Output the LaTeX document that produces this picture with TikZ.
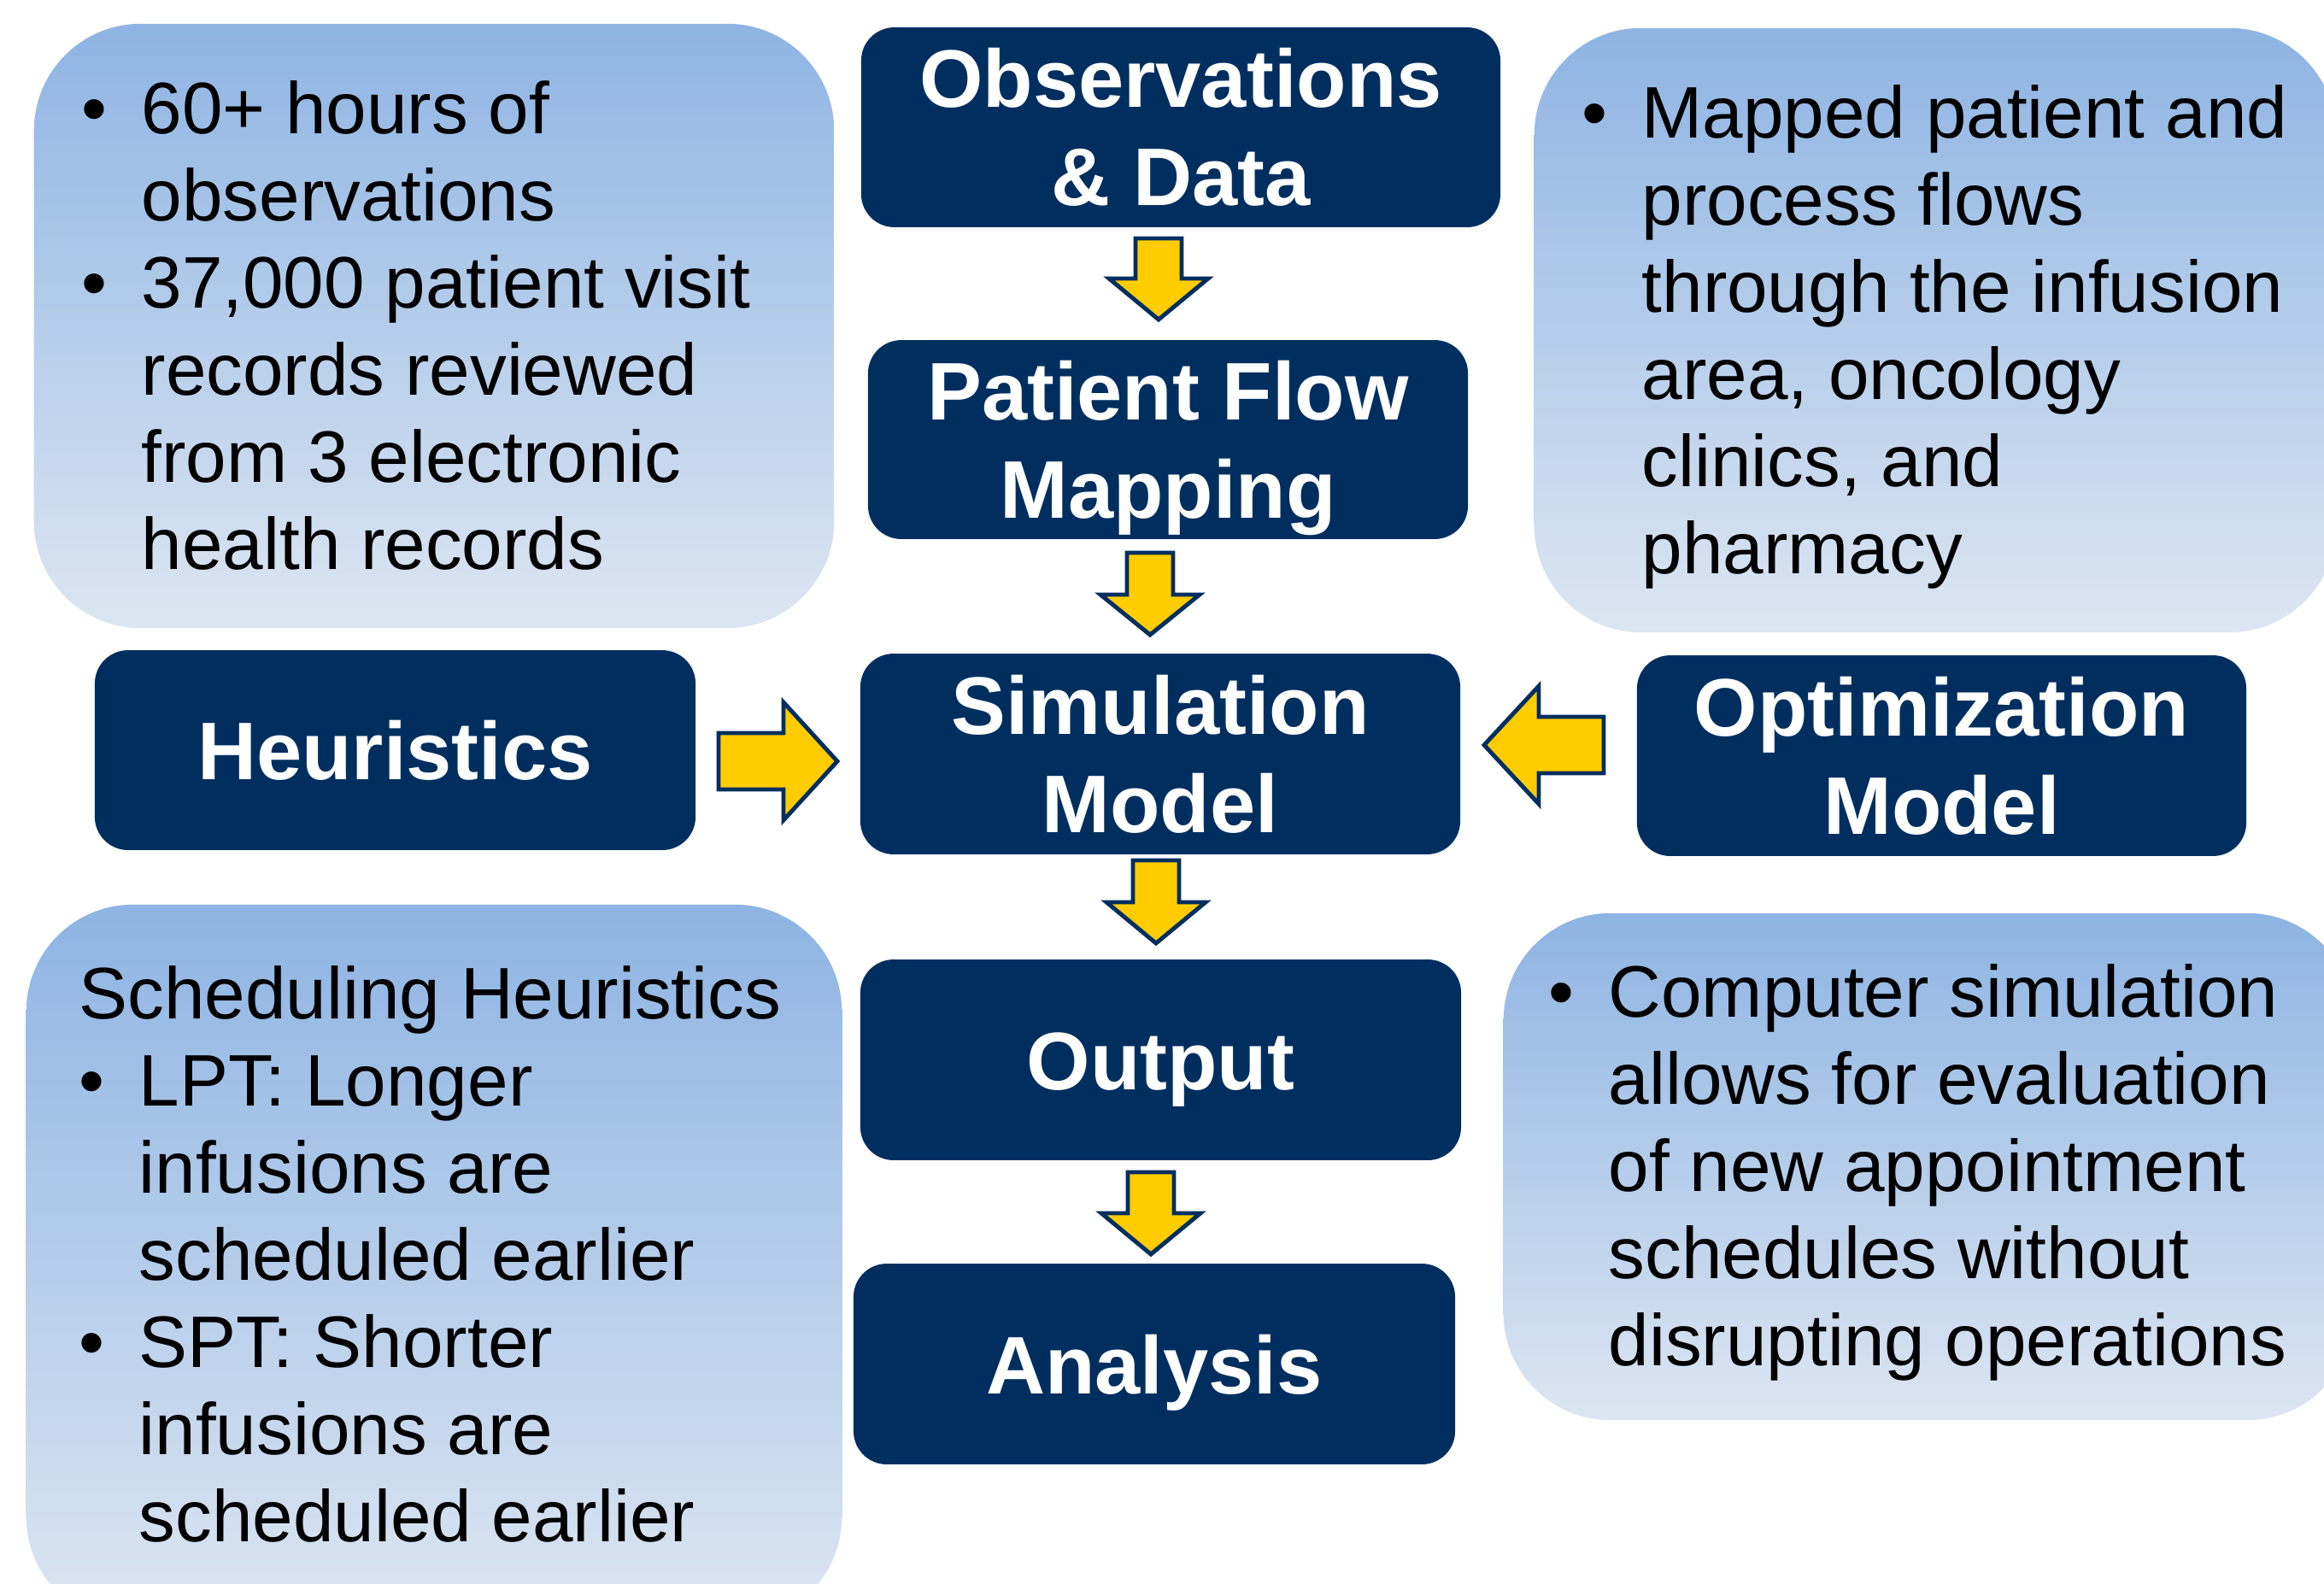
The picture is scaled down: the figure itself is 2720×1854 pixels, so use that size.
\documentclass[tikz,border=0pt]{standalone}
\usepackage{fontspec}
\setmainfont{Liberation Sans}
\usetikzlibrary{calc}
\definecolor{navy}{HTML}{002F5F}
\definecolor{gold}{HTML}{FFCC00}
\definecolor{ltop}{HTML}{8EB4E3}
\definecolor{lbot}{HTML}{DCE6F2}
\newcommand\bul{\makebox[0.70cm][l]{•}}
\newcommand\ind{\hspace*{0.70cm}}
\newcommand\arrdown[6]{% cx, top, headbase, tip, shaft half, head half
  \draw[blockarrow] ({#1-#5},#2) -- ({#1+#5},#2) -- ({#1+#5},#3) -- ({#1+#6},#3)
    -- (#1,#4) -- ({#1-#6},#3) -- ({#1-#5},#3) -- cycle;}
\newcommand\arrside[6]{% cy, tail, headbase, tip, shaft half, head half
  \draw[blockarrow] (#2,{#1-#5}) -- (#3,{#1-#5}) -- (#3,{#1-#6}) -- (#4,#1)
    -- (#3,{#1+#6}) -- (#3,{#1+#5}) -- (#2,{#1+#5}) -- cycle;}
\tikzset{
  darkbox/.style={draw=navy, fill=navy, line width=0.5pt, rounded corners=0.38cm,
    text=white, font=\bfseries\fontsize{27.2}{32.7}\selectfont, inner sep=0pt,
    text height=0.69cm, text depth=0pt},
  twoline/.style={text depth=1.15cm},
  lightbox/.style={rounded corners=1.25cm, top color=ltop, bottom color=lbot, draw=none, inner sep=0pt},
  lighttext/.style={font=\fontsize{24.3}{29.05}\selectfont, inner sep=0pt, anchor=base west, text=black},
  blockarrow/.style={fill=gold, draw=navy, line width=1.4pt, line join=miter},
}
\begin{document}
\begin{tikzpicture}[x=0.01cm, y=-0.01cm]
\useasboundingbox (0,0) rectangle (2720,1854);
\fill[white] (0,0) rectangle (2720,1854);
\clip (0,0) rectangle (2720,1854);

% light information panels
\node[lightbox, minimum width=9.36cm, minimum height=7.07cm] (tlbox) at (508,381.5) {};
\node[lightbox, minimum width=9.38cm, minimum height=7.07cm] (trbox) at (2265,386.5) {};
\node[lightbox, minimum width=9.54cm, minimum height=8.41cm] (blbox) at (508,1479.5) {};
\node[lightbox, minimum width=9.95cm, minimum height=5.93cm] (brbox) at (2257.5,1365.5) {};

\node[lighttext] (tltext) at (95,156) {\begin{tabular}[t]{@{}l@{}}
\bul 60+ hours of\\
\ind observations\\
\bul 37,000 patient visit\\
\ind records reviewed\\
\ind from 3 electronic\\
\ind health records\end{tabular}};

\node[lighttext] (trtext) at (1851,161) {\begin{tabular}[t]{@{}l@{}}
\bul Mapped patient and\\
\ind process flows\\
\ind through the infusion\\
\ind area, oncology\\
\ind clinics, and\\
\ind pharmacy\end{tabular}};

\node[lighttext] (bltext) at (92,1192) {\begin{tabular}[t]{@{}l@{}}
Scheduling Heuristics\\
\bul LPT: Longer\\
\ind infusions are\\
\ind scheduled earlier\\
\bul SPT: Shorter\\
\ind infusions are\\
\ind scheduled earlier\end{tabular}};

\node[lighttext] (brtext) at (1812,1190) {\begin{tabular}[t]{@{}l@{}}
\bul Computer simulation\\
\ind allows for evaluation\\
\ind of new appointment\\
\ind schedules without\\
\ind disrupting operations\end{tabular}};

% dark process boxes
\node[darkbox, twoline, minimum width=7.46cm, minimum height=2.32cm] (obs) at (1382,149)
  {\begin{tabular}[t]{@{}c@{}}Observations\\\& Data\end{tabular}};
\node[darkbox, twoline, minimum width=7.00cm, minimum height=2.31cm] (pf) at (1367,514.5)
  {\begin{tabular}[t]{@{}c@{}}Patient Flow\\Mapping\end{tabular}};
\node[darkbox, twoline, minimum width=7.00cm, minimum height=2.33cm] (sim) at (1358,882.5)
  {\begin{tabular}[t]{@{}c@{}}Simulation\\Model\end{tabular}};
\node[darkbox, minimum width=7.01cm, minimum height=2.32cm] (heu) at (462.5,878) {Heuristics};
\node[darkbox, twoline, minimum width=7.11cm, minimum height=2.33cm] (opt) at (2272.5,884.5)
  {\begin{tabular}[t]{@{}c@{}}Optimization\\Model\end{tabular}};
\node[darkbox, minimum width=7.01cm, minimum height=2.33cm] (out) at (1358.5,1240.5) {Output};
\node[darkbox, minimum width=7.02cm, minimum height=2.33cm] (ana) at (1351,1596.5) {Analysis};

% block arrows
\arrdown{1356}{279}{326}{374}{27}{58}
\arrdown{1346}{647}{696}{743}{27}{58}
\arrdown{1353}{1007}{1056}{1104}{27}{58}
\arrdown{1347}{1372}{1420}{1468}{27}{58}
\arrside{891}{841}{917}{980}{33}{69}
\arrside{872}{1877}{1801}{1737}{33}{69}
\end{tikzpicture}
\end{document}
